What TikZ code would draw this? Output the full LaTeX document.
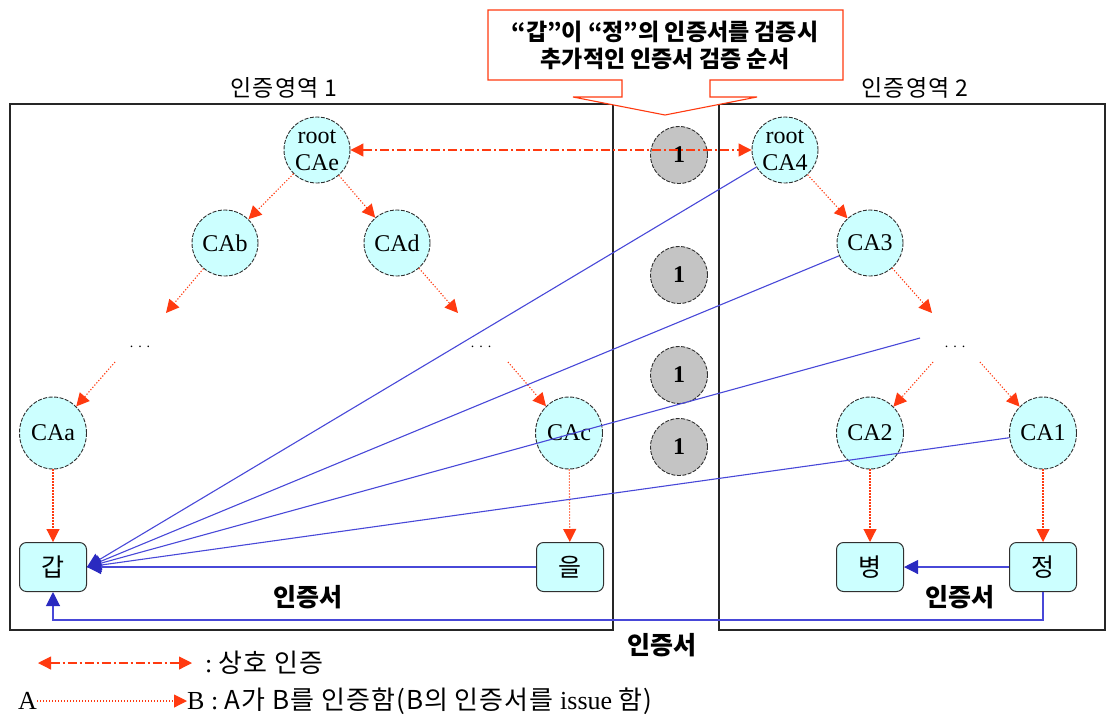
\documentclass[tikz,border=0pt]{standalone}
\usepackage{fontspec}
\setmainfont{Liberation Serif}
\newfontfamily\kr{Noto Sans CJK KR}
\newfontfamily\krw{Noto Sans CJK KR}[LetterSpace=4]
\usetikzlibrary{arrows.meta,shapes.geometric}
\definecolor{cared}{HTML}{FF3A10}
\definecolor{cablue}{HTML}{4848D8}
\definecolor{cahead}{HTML}{2A2AC0}
\definecolor{cyanfill}{HTML}{CCFFFF}
\definecolor{grayfill}{HTML}{C4C4C4}
\definecolor{edge}{HTML}{303030}
\tikzset{
  ca/.style={circle,draw=edge,line width=0.9pt,dash pattern=on 4pt off 1.5pt,fill=cyanfill,minimum size=66pt,inner sep=0pt,align=center,font=\fontsize{24}{29}\selectfont},
  cab/.style={ellipse,draw=edge,line width=0.9pt,dash pattern=on 4pt off 1.5pt,fill=cyanfill,minimum width=67pt,minimum height=72pt,inner sep=0pt,font=\fontsize{24}{29}\selectfont},
  person/.style={rectangle,rounded corners=7pt,draw=edge,line width=1pt,fill=cyanfill,minimum width=67pt,minimum height=49pt,inner sep=0pt,font=\fontsize{25}{25}\selectfont\kr},
  num/.style={circle,draw=edge,line width=0.9pt,dash pattern=on 4pt off 1.5pt,fill=grayfill,minimum size=57pt,inner sep=0pt,font=\fontsize{24}{24}\selectfont\bfseries},
  issue/.style={draw=cared,line width=1.1pt,dash pattern=on 1.2pt off 1.8pt,-{Triangle[length=13pt,width=13pt]},shorten >=0pt},
  mutual/.style={draw=cared,line width=1.1pt,dash pattern=on 9pt off 3pt on 2pt off 3pt,{Triangle[length=13pt,width=13pt]}-{Triangle[length=13pt,width=13pt]}},
  cert/.style={draw=cablue,line width=1.1pt,-{Triangle[length=14pt,width=14pt,color=cahead]}},
  region/.style={draw=black!85,line width=1.3pt},
  lbl/.style={font=\fontsize{23}{23}\selectfont\krw,inner sep=0pt},
  boldlbl/.style={font=\fontsize{25}{25}\selectfont\kr\bfseries,inner sep=0pt},
  dots/.style={font=\fontsize{14}{14}\selectfont,inner sep=0pt},
  legtext/.style={font=\fontsize{26}{26}\selectfont,inner sep=0pt},
}
\begin{document}
\begin{tikzpicture}[x=1pt,y=-1pt]
\useasboundingbox (0,0) rectangle (1107,716);
% regions
\draw[region] (10,104) rectangle (613,630);
\draw[region] (719,104) rectangle (1105,630);
\node[lbl] (r1) at (284,88) {인증영역 1};
\node[lbl] (r2) at (915,88) {인증영역 2};
% callout
\draw[cared,line width=1.1pt,fill=white] (488,10) -- (843,10) -- (843,80) -- (710,80) -- (710,97) -- (757,97) -- (665,115) -- (573,97) -- (622,97) -- (622,80) -- (488,80) -- cycle;
\node[font=\fontsize{23}{27}\selectfont\kr\bfseries,align=center] (callout) at (665,45) {“갑”이 “정”의 인증서를 검증시\\추가적인 인증서 검증 순서};
% middle circles
\node[num] (n1) at (679,155) {1};
\node[num] (n2) at (679,275) {1};
\node[num] (n3) at (679,375) {1};
\node[num] (n4) at (679,447) {1};
% region 1 nodes
\node[ca] (CAe) at (317,150) {root\\[-2pt]CAe};
\node[ca] (CAb) at (225,243) {CAb};
\node[ca] (CAd) at (397,243) {CAd};
\node[dots] (dL) at (140,347) {.\hspace{5pt}.\hspace{5pt}.};
\node[dots] (dR) at (481,347) {.\hspace{5pt}.\hspace{5pt}.};
\node[cab] (CAa) at (53,433) {CAa};
\node[cab] (CAc) at (569,433) {CAc};
\node[person] (gab) at (53,567) {갑};
\node[person] (eul) at (570,567) {을};
% region 2 nodes
\node[ca] (CA4) at (785,150) {root\\[-2pt]CA4};
\node[ca] (CA3) at (870,243) {CA3};
\node[dots] (d2) at (955,347) {.\hspace{5pt}.\hspace{5pt}.};
\node[cab] (CA2) at (870,433) {CA2};
\node[cab] (CA1) at (1043,433) {CA1};
\node[person] (byeong) at (870,567) {병};
\node[person] (jeong) at (1043,567) {정};
% helper coordinates
\coordinate (tL) at (166,313);
\coordinate (tR) at (458,313);
\coordinate (sL) at (115,362);
\coordinate (sR) at (508,362);
\coordinate (t2) at (932,313);
\coordinate (s2a) at (933,362);
\coordinate (s2b) at (980,362);
\coordinate (s2c) at (920,338);
% issue arrows
\draw[issue] (CAe) -- (CAb);
\draw[issue] (CAe) -- (CAd);
\draw[issue] (CAb) -- (tL);
\draw[issue] (CAd) -- (tR);
\draw[issue] (sL) -- (CAa);
\draw[issue] (sR) -- (CAc);
\draw[issue] (CAa) -- (gab);
\draw[issue] (CAc) -- (eul);
\draw[issue] (CA4) -- (CA3);
\draw[issue] (CA3) -- (t2);
\draw[issue] (s2a) -- (CA2);
\draw[issue] (s2b) -- (CA1);
\draw[issue] (CA2) -- (byeong);
\draw[issue] (CA1) -- (jeong);
% mutual
\draw[mutual] (CAe) -- (CA4);
% certificates
\draw[cert] (CA4) -- (gab.east);
\draw[cert] (CA3) -- (gab.east);
\draw[cert] (s2c) -- (gab.east);
\draw[cert] (CA1) -- (gab.east);
\draw[cert] (eul) -- (gab);
\draw[cert] (jeong) -- (byeong);
\draw[cert] (jeong.south) -- ++(0,28) -| (gab.south);
\node[boldlbl] (c1) at (308,597) {인증서};
\node[boldlbl] (c2) at (960,597) {인증서};
\node[boldlbl] (c3) at (662,645) {인증서};
% legend
\coordinate (l1a) at (38,663);
\coordinate (l1b) at (192,663);
\draw[mutual] (l1a) -- (l1b);
\node[legtext,anchor=west] (leg1) at (205,663) {:\ {\krw 상호 인증}};
\node[legtext,anchor=west] (lgA) at (18,701) {A};
\node[legtext,anchor=west] (lgB) at (187,701) {B : {\krw A가 B를 인증함(B의 인증서를} issue {\krw 함)}};
\draw[issue] (lgA) -- (lgB);
\end{tikzpicture}
\end{document}
